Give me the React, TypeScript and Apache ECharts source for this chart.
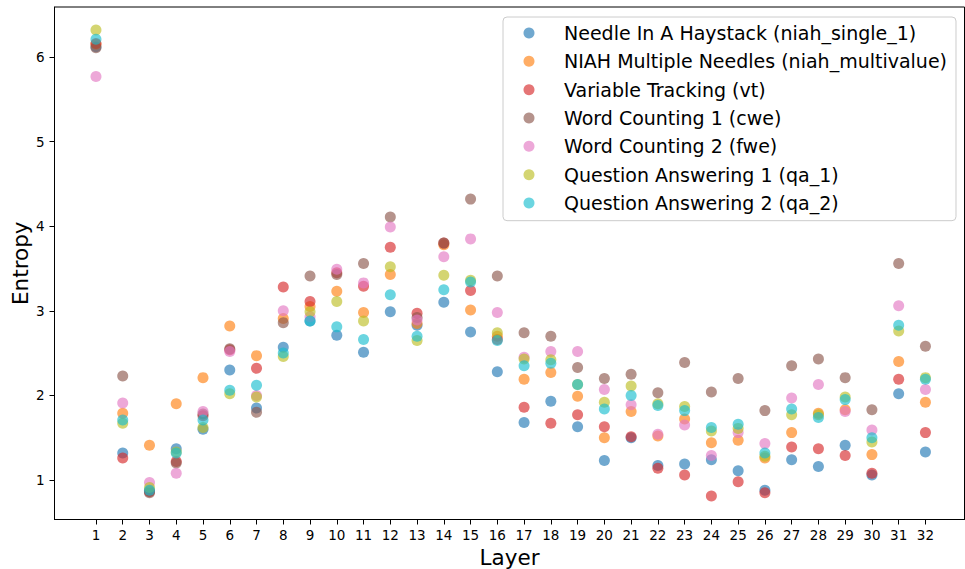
import React, { useEffect, useRef } from "react";
import * as echarts from "echarts";

const LAYERS = Array.from({ length: 32 }, (_, i) => i + 1);
const Y_TICKS = [1, 2, 3, 4, 5, 6];

const SERIES_NAMES = [
  "Needle In A Haystack (niah_single_1)",
  "NIAH Multiple Needles (niah_multivalue)",
  "Variable Tracking (vt)",
  "Word Counting 1 (cwe)",
  "Word Counting 2 (fwe)",
  "Question Answering 1 (qa_1)",
  "Question Answering 2 (qa_2)",
];

const COLORS = [
  "rgba(31,119,180,0.8)",
  "rgba(255,127,14,0.8)",
  "rgba(214,39,40,0.8)",
  "rgba(140,86,75,0.8)",
  "rgba(227,119,194,0.8)",
  "rgba(188,189,34,0.8)",
  "rgba(23,190,207,0.8)",
];

const niahSingle = [6.12, 1.32, 0.87, 1.37, 1.6, 2.3, 1.85, 2.57, 2.88, 2.71, 2.51, 2.99, 2.83, 3.1, 2.75, 2.28, 1.68, 1.93, 1.63, 1.23, 1.5, 1.17, 1.19, 1.24, 1.11, 0.88, 1.24, 1.16, 1.41, 1.06, 2.02, 1.33];
const niahMulti = [6.15, 1.79, 1.41, 1.9, 2.21, 2.82, 2.47, 2.91, 3.05, 3.23, 2.98, 3.43, 2.85, 3.78, 3.01, 2.7, 2.19, 2.27, 1.99, 1.5, 1.81, 1.52, 1.72, 1.44, 1.47, 1.26, 1.56, 1.79, 1.83, 1.3, 2.4, 1.92];
const vt = [6.16, 1.26, 0.86, 1.22, 1.76, 2.54, 2.32, 3.28, 3.11, 3.45, 3.29, 3.75, 2.97, 3.8, 3.24, 2.66, 1.86, 1.67, 1.77, 1.63, 1.51, 1.14, 1.06, 0.81, 0.98, 0.85, 1.39, 1.37, 1.29, 1.08, 2.19, 1.56];
const cwe = [6.11, 2.23, 0.85, 1.2, 1.78, 2.55, 1.8, 2.86, 3.41, 3.43, 3.56, 4.11, 2.92, 3.8, 4.32, 3.41, 2.74, 2.7, 2.33, 2.2, 2.25, 2.03, 2.39, 2.04, 2.2, 1.82, 2.35, 2.43, 2.21, 1.83, 3.56, 2.58];
const fwe = [5.77, 1.91, 0.97, 1.08, 1.81, 2.52, 2.0, 3.0, 2.93, 3.49, 3.33, 3.99, 2.89, 3.64, 3.85, 2.98, 2.45, 2.52, 2.52, 2.07, 1.89, 1.54, 1.65, 1.29, 1.56, 1.43, 1.97, 2.13, 1.81, 1.59, 3.06, 2.07];
const qa1 = [6.32, 1.67, 0.91, 1.33, 1.62, 2.02, 1.98, 2.46, 2.99, 3.11, 2.88, 3.52, 2.65, 3.42, 3.36, 2.74, 2.43, 2.42, 2.13, 1.92, 2.11, 1.9, 1.87, 1.58, 1.61, 1.28, 1.77, 1.77, 1.98, 1.45, 2.76, 2.21];
const qa2 = [6.21, 1.71, 0.88, 1.32, 1.71, 2.06, 2.12, 2.5, 2.88, 2.81, 2.66, 3.19, 2.7, 3.25, 3.34, 2.65, 2.35, 2.38, 2.13, 1.84, 2.0, 1.88, 1.82, 1.62, 1.66, 1.32, 1.84, 1.74, 1.95, 1.5, 2.83, 2.19];

const ALL_VALUES = [niahSingle, niahMulti, vt, cwe, fwe, qa1, qa2];

const FONT = "DejaVu Sans";

export default function App() {
  const ref = useRef<HTMLDivElement>(null);

  useEffect(() => {
    if (!ref.current) return;
    const chart = echarts.init(ref.current, null, { renderer: "svg" });
    const axisLine = { show: true, onZero: false, lineStyle: { color: "#000", width: 1 } };
    const tick = { show: true, inside: false, length: 5, lineStyle: { color: "#000", width: 1 } };
    chart.setOption({
      animation: false,
      backgroundColor: "#fff",
      grid: {
        left: 54.5,
        right: 0.5,
        top: 7,
        bottom: 49.5,
        containLabel: false,
        outerBoundsMode: "none",
        show: true,
        borderColor: "#000",
        borderWidth: 1,
        backgroundColor: "transparent",
      },
      legend: {
        orient: "vertical",
        left: 503,
        top: 17,
        padding: [5, 9, 6.7, 20.5],
        itemGap: 6.33,
        itemWidth: 11,
        itemHeight: 11,
        icon: "circle",
        backgroundColor: "rgba(255,255,255,0.8)",
        borderColor: "#cccccc",
        borderWidth: 1,
        borderRadius: 4,
        formatter: (name: string) => `{p|}${name}`,
        textStyle: {
          fontFamily: FONT,
          fontSize: 19,
          lineHeight: 22,
          color: "#000",
          rich: {
            p: { width: 24.5, fontSize: 19, lineHeight: 22 },
          },
        },
        data: SERIES_NAMES,
      },
      xAxis: {
        type: "value",
        min: -0.55,
        max: 33.46,
        name: "Layer",
        nameLocation: "middle",
        nameGap: 27,
        nameMoveOverlap: false,
        nameTextStyle: { fontFamily: FONT, fontSize: 21.5, color: "#000" },
        axisLine,
        splitLine: { show: false },
        axisTick: { ...tick, customValues: LAYERS },
        axisLabel: {
          customValues: LAYERS,
          fontFamily: FONT,
          fontSize: 13.5,
          color: "#000",
          margin: 8,
        },
      },
      yAxis: {
        type: "value",
        min: 0.533,
        max: 6.591,
        name: "Entropy",
        nameLocation: "middle",
        nameGap: 23,
        nameMoveOverlap: false,
        nameTextStyle: { fontFamily: FONT, fontSize: 21.5, color: "#000" },
        axisLine,
        splitLine: { show: false },
        axisTick: { ...tick, customValues: Y_TICKS },
        axisLabel: {
          customValues: Y_TICKS,
          fontFamily: FONT,
          fontSize: 13.5,
          color: "#000",
          margin: 10,
        },
      },
      series: SERIES_NAMES.map((name, si) => ({
        name,
        type: "scatter",
        symbol: "circle",
        symbolSize: 11,
        itemStyle: { color: COLORS[si] },
        emphasis: { disabled: true },
        data: LAYERS.map((l, i) => [l, ALL_VALUES[si][i]]),
      })),
    });
    return () => chart.dispose();
  }, []);

  return (
    <div
      ref={ref}
      style={{ position: "fixed", left: 0, top: 0, width: 965, height: 569 }}
    />
  );
}
